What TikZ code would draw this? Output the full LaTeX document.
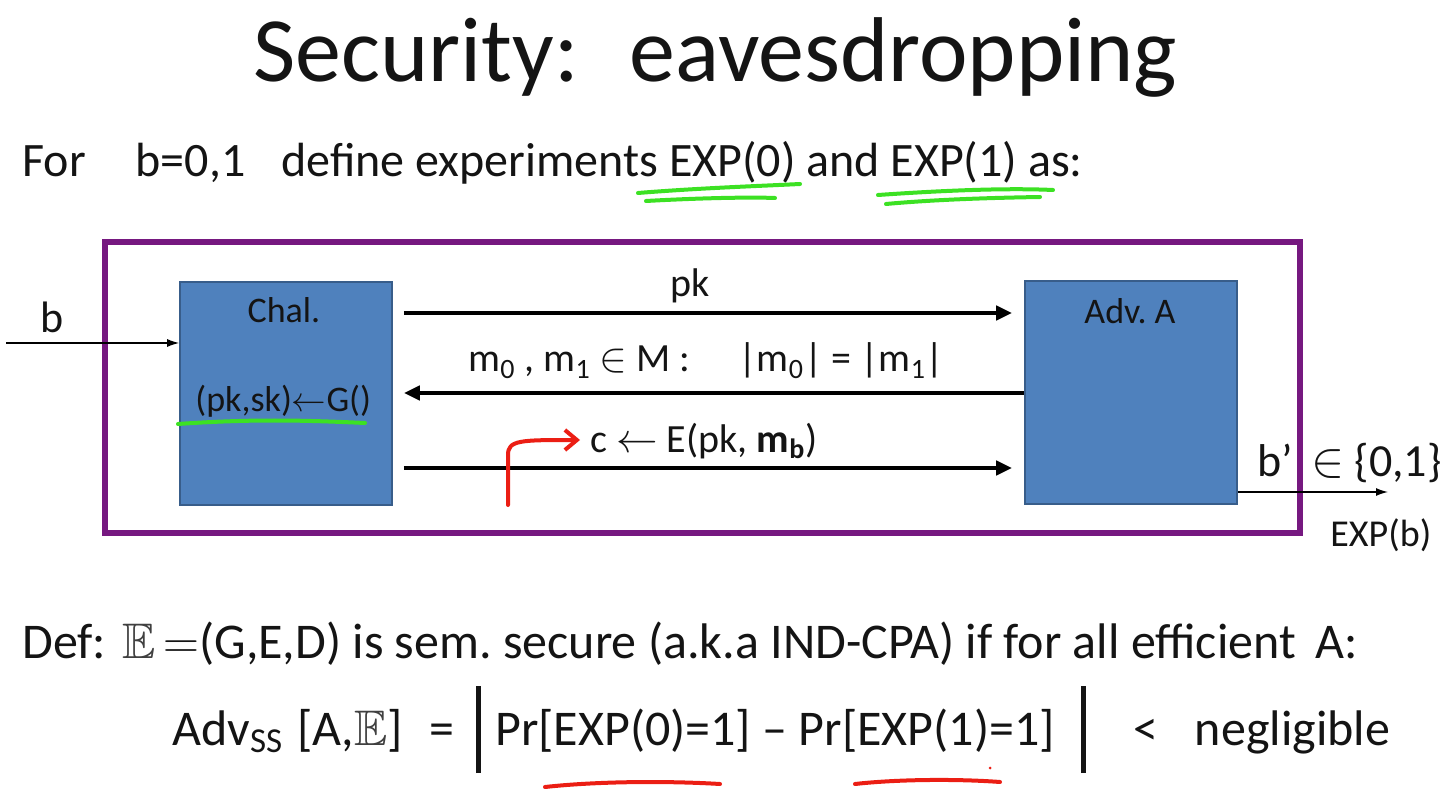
\documentclass[tikz,border=0pt]{standalone}
\usepackage{fontspec}
\setmainfont{Carlito}
\usepackage{amssymb}
\usetikzlibrary{arrows.meta,calc,positioning}

\definecolor{boxblue}{RGB}{79,129,189}
\definecolor{boxline}{RGB}{56,93,138}
\definecolor{boxframe}{RGB}{118,24,128}
\definecolor{penred}{RGB}{235,30,20}
\definecolor{pengreen}{RGB}{60,225,35}
\definecolor{ink}{RGB}{20,20,20}

\tikzset{
  party/.style={draw=boxline, line width=0.8pt, fill=boxblue, minimum width=106pt, minimum height=111.5pt, inner sep=0pt},
  msg/.style={line width=2.2pt, -{Triangle[length=8pt,width=7pt]}},
  wire/.style={line width=0.7pt, -{Latex[length=6pt,width=4pt]}},
  partyname/.style={font=\fontsize{18}{21}\selectfont, inner sep=0pt, text=ink},
  lbl/.style={font=\fontsize{20}{24}\selectfont, inner sep=0pt, text=ink},
  txt/.style={font=\fontsize{25}{30}\selectfont, inner sep=0pt, text=ink, anchor=base west},
  pen/.style={line width=2pt, line cap=round, line join=round},
}
\newcommand{\bbE}{\textcolor{black!75}{$\mathbb{E}$}}

\begin{document}
\frenchspacing
\begin{tikzpicture}[x=0.5pt, y=-0.5pt]
\useasboundingbox (0,0) rectangle (1456,796);

% heading
\node[font=\fontsize{46}{52}\selectfont, anchor=base west, inner sep=0pt, text=ink] (title) at (253,82) {Security:\hspace{0.55em}eavesdropping};
\node[txt, font=\fontsize{24}{29}\selectfont] (intro) at (22,177) {For\hspace{25pt}b=0,1\hspace{18pt}define experiments EXP(0) and EXP(1) as:};

% experiment
\draw[boxframe, line width=3pt] (105,242) rectangle (1300,533);
\node[party] (chal) at (286,393.5) {};
\node[party] (adv) at (1131,392.5) {};
\node[partyname, anchor=base] (chalname) at (284,323) {Chal.};
\node[partyname, anchor=base west] (keygen) at (195,412) {(pk,sk)$\leftarrow$G()};
\node[partyname, anchor=base] (advname) at (1130,324) {Adv. A};

% input bit
\coordinate (bin) at (6,343);
\draw[wire] (bin) -- (bin -| chal.west);
\node[font=\fontsize{22}{26}\selectfont, anchor=base, inner sep=0pt, text=ink] (blbl) at (52,333) {b};

% messages
\draw[msg, shorten <=5.5pt, shorten >=6pt] (chal.east |- 0,313) -- (adv.west |- 0,313);
\node[lbl, anchor=base] (pklbl) at (690,297) {pk};
\draw[msg, shorten >=5.5pt] (adv.west |- 0,393) -- (chal.east |- 0,393);
\node[lbl, anchor=base west] (mlbl) at (468,372) {m\textsubscript{0} , m\textsubscript{1} $\in$ M :\hspace{1.2em}|m\textsubscript{0}| = |m\textsubscript{1}|};
\draw[msg, shorten <=5.5pt, shorten >=6pt] (chal.east |- 0,468) -- (adv.west |- 0,468);
\node[lbl, anchor=base west] (clbl) at (590,452) {c $\leftarrow$ E(pk, \textbf{m\textsubscript{b}})};

% output bit
\coordinate (bout) at (1388,492);
\draw[wire] (adv.east |- bout) -- (bout);
\node[font=\fontsize{23}{27}\selectfont, anchor=base west, inner sep=0pt, text=ink] (bprime) at (1257,476) {b’\hspace{9pt}$\in$ \{0,1\}};
\node[font=\fontsize{19}{22}\selectfont, anchor=base west, inner sep=0pt, text=ink] (expb) at (1330,546) {EXP(b)};

% definition
\node[txt] (def) at (22,658) {Def:\hspace{8pt}\bbE\hspace{4pt}$=$(G,E,D) is sem. secure (a.k.a IND-CPA) if for all efficient\hspace{10pt}A:};
\node[txt] (advss) at (172,745) {Adv\textsubscript{SS}\hspace{7pt}[A,\bbE]\hspace{13pt}=\hspace{11pt}\rule[-14pt]{2.6pt}{43.5pt}\hspace{7pt}Pr[EXP(0)=1] – Pr[EXP(1)=1]\hspace{13pt}\rule[-14pt]{2.6pt}{43.5pt}\hspace{24pt}<\hspace{18pt}negligible};

% pen marks
\draw[pen, pengreen] (178,424) .. controls (250,419) and (300,420) .. (365,423);
\draw[pen, pengreen] (638,193) .. controls (700,188) and (760,186) .. (800,184);
\draw[pen, pengreen] (646,201) .. controls (700,198) and (750,197) .. (775,198);
\draw[pen, pengreen] (878,195) .. controls (950,190) and (1010,188) .. (1053,190);
\draw[pen, pengreen] (886,204) .. controls (930,200) and (980,198) .. (1040,197);
\draw[pen, penred, -{Straight Barb[length=6pt,width=10pt]}] (508,505) -- (508,455) .. controls (508,440) and (520,440) .. (580,440);
\draw[pen, penred] (545,787) .. controls (600,781) and (670,781) .. (720,784);
\draw[pen, penred] (855,784) .. controls (900,779) and (960,779) .. (1000,782);
\fill[penred] (990,768) circle (1.5);
\end{tikzpicture}
\end{document}
